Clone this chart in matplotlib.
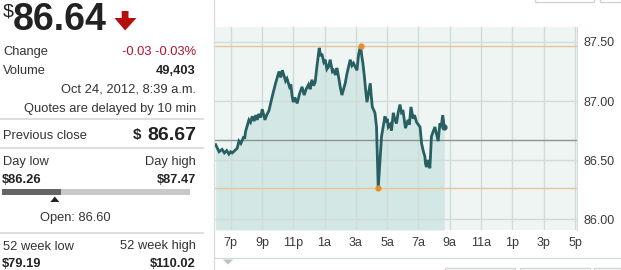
import matplotlib
matplotlib.use("Agg")
import matplotlib.pyplot as plt
from matplotlib.patches import Polygon, Rectangle
import numpy as np

plt.rcParams['font.family'] = ['Liberation Sans', 'DejaVu Sans']

# ---------------- data ----------------
# hours after 6 p.m. (Oct 23) and price
hours = [0.04, 0.26, 0.45, 0.60, 0.75, 0.89, 1.00, 1.10, 1.42, 1.53, 1.65, 1.85,
         1.90, 1.95, 2.17, 2.27, 2.38, 2.50, 2.60, 2.70, 2.80, 2.91, 3.02, 3.19,
         3.30, 3.45, 3.66, 3.87, 4.09, 4.20, 4.30, 4.40, 4.51, 4.60, 4.76, 4.85,
         4.92, 5.00, 5.10, 5.25, 5.40, 5.56, 5.70, 5.82, 5.98, 6.08, 6.19, 6.30,
         6.40, 6.51, 6.66, 6.75, 6.83, 6.95, 7.04, 7.15, 7.25, 7.36, 7.50, 7.57,
         7.70, 7.79, 7.89, 8.00, 8.11, 8.32, 8.43, 8.64, 8.75, 8.85, 9.07, 9.17,
         9.30, 9.38, 9.45, 9.55, 9.62, 9.71, 9.92, 9.98, 10.05, 10.22, 10.32,
         10.43, 10.64, 10.86, 10.95, 11.00, 11.07, 11.18, 11.28, 11.39, 11.50,
         11.60, 11.70, 11.82, 11.92, 12.02, 12.17, 12.34, 12.42, 12.52, 12.66,
         12.75, 12.88, 13.10, 13.20, 13.30, 13.41, 13.45, 13.51, 13.60, 13.73,
         13.83, 14.05, 14.26, 14.37, 14.45, 14.55, 14.65]
prices = [86.63, 86.57, 86.59, 86.56, 86.58, 86.55, 86.57, 86.56, 86.60, 86.66,
          86.64, 86.70, 86.68, 86.74, 86.84, 86.82, 86.87, 86.83, 86.88, 86.84,
          86.89, 86.86, 86.93, 86.84, 86.88, 86.92, 87.04, 87.15, 87.25, 87.20,
          87.26, 87.22, 87.17, 87.19, 87.12, 87.14, 87.05, 86.99, 87.03, 86.98,
          87.06, 87.12, 87.05, 87.10, 87.14, 87.10, 87.18, 87.13, 87.16, 87.29,
          87.45, 87.38, 87.40, 87.33, 87.35, 87.27, 87.29, 87.35, 87.25, 87.26,
          87.22, 87.28, 87.21, 87.12, 87.05, 87.15, 87.23, 87.35, 87.30, 87.32,
          87.26, 87.39, 87.47, 87.38, 87.32, 87.20, 87.10, 86.99, 87.15, 87.05,
          86.95, 86.90, 86.78, 86.26, 86.70, 86.87, 86.82, 86.85, 86.78, 86.80,
          86.75, 86.90, 86.84, 86.81, 86.90, 86.97, 86.90, 86.91, 86.77, 86.84,
          86.80, 86.95, 86.85, 86.88, 86.82, 86.78, 86.64, 86.58, 86.53, 86.47,
          86.44, 86.50, 86.43, 86.70, 86.78, 86.66, 86.81, 86.78, 86.88, 86.78]

tick_hours = [1, 3, 5, 7, 9, 11, 13, 15, 17, 19, 21, 23]
tick_labels = ['7p', '9p', '11p', '1a', '3a', '5a', '7a', '9a', '11a', '1p', '3p', '5p']
y_ticks = [86.00, 86.50, 87.00, 87.50]

last_price = 86.64
change = -0.03
change_pct = -0.03
volume = 49403
prev_close = 86.67
day_low = 86.26
day_high = 87.47
open_price = 86.60
wk52_low = 79.19
wk52_high = 110.02
timestamp = 'Oct 24, 2012, 8:39 a.m.'

# ---------------- figure ----------------
W, H = 621, 270
fig = plt.figure(figsize=(W / 100, H / 100), dpi=100)
fig.patch.set_facecolor('white')

ov = fig.add_axes([0, 0, 1, 1], zorder=0)
ov.set_xlim(0, W)
ov.set_ylim(H, 0)
ov.axis('off')

TXT = '#333333'
VAL = '#222222'
FS = 9.3
R = 196

# big price
ov.text(3, 4, '$', fontsize=14, color=VAL, va='top', ha='left')
ov.text(13, 30.5, f'{last_price:.2f}', fontsize=27, fontweight='bold', color=VAL,
        va='baseline', ha='left')
# red down arrow
ov.add_patch(Polygon([[121.7, 11], [128.5, 11], [128.5, 18], [136.5, 18],
                      [125.1, 30.5], [114.5, 18], [121.7, 18]],
                     closed=True, color='#b50d0d', lw=0))

ov.text(3, 55, 'Change', fontsize=FS, color=TXT, va='baseline')
ov.text(R, 55, f'{change:.2f} {change_pct:.2f}%', fontsize=FS, color='#b3122b',
        va='baseline', ha='right')
ov.text(3, 74, 'Volume', fontsize=FS, color=TXT, va='baseline')
ov.text(R, 74, f'{volume:,}', fontsize=FS, color=VAL, fontweight='bold',
        va='baseline', ha='right')
ov.text(R, 93, timestamp, fontsize=FS, color=TXT, va='baseline', ha='right')
ov.text(R, 112, 'Quotes are delayed by 10 min', fontsize=FS, color=TXT,
        va='baseline', ha='right')

SEP = '#d3dada'
for yy in (119, 147.5, 232.5):
    ov.plot([0, 203], [yy, yy], color=SEP, lw=1.2)

ov.text(3, 139, 'Previous close', fontsize=FS, color=TXT, va='baseline')
ov.text(R, 139.5, f'{prev_close:.2f}', fontsize=14, fontweight='bold', color=VAL,
        va='baseline', ha='right')
ov.text(133, 139.5, '$', fontsize=11, fontweight='bold', color=VAL,
        va='baseline', ha='left')

ov.text(3, 165, 'Day low', fontsize=FS, color=TXT, va='baseline')
ov.text(R, 165, 'Day high', fontsize=FS, color=TXT, va='baseline', ha='right')
ov.text(2, 183.3, f'${day_low:.2f}', fontsize=FS, color=VAL, fontweight='bold',
        va='baseline')
ov.text(R, 183.3, f'${day_high:.2f}', fontsize=FS, color=VAL, fontweight='bold',
        va='baseline', ha='right')

# day range bar
bx0, bx1 = 2, 190
frac = (last_price - day_low) / (day_high - day_low)
ov.add_patch(Rectangle((bx0, 189), bx1 - bx0, 6, color='#c9c9c9', lw=0))
ov.add_patch(Rectangle((bx0, 189), (bx1 - bx0) * frac, 6, color='#656565', lw=0))
ox = bx0 + (bx1 - bx0) * (open_price - day_low) / (day_high - day_low)
ov.add_patch(Polygon([[ox - 4.5, 202], [ox + 4.5, 202], [ox, 196.5]], closed=True,
                     color='#222222', lw=0))
ov.text(75, 221, f'Open: {open_price:.2f}', fontsize=FS, color=TXT,
        va='baseline', ha='center')

ov.text(3, 249.5, '52 week low', fontsize=FS, color=TXT, va='baseline')
ov.text(R, 249.5, '52 week high', fontsize=FS, color=TXT, va='baseline', ha='right')
ov.text(2, 267, f'${wk52_low:.2f}', fontsize=FS, color=VAL, fontweight='bold',
        va='baseline')
ov.text(R, 267, f'${wk52_high:.2f}', fontsize=FS, color=VAL, fontweight='bold',
        va='baseline', ha='right')

# chart frame decorations
ov.plot([213.5, 213.5], [0, H], color='#dadede', lw=1)
ov.plot([215, W], [258, 258], color='#d6dcdc', lw=1)
ov.add_patch(Polygon([[223, 259.5], [233, 259.5], [228, 264.5]], closed=True,
                     color='#b8c2c4', lw=0))
for (x0, x1) in ((535, 594), (600, 621)):
    ov.add_patch(Rectangle((x0, -3), x1 - x0, 4.5, fill=False, ec='#d0d4d4', lw=1))
for (x0, x1) in ((445, 515), (520, 590), (594, 621)):
    ov.add_patch(Rectangle((x0, 267.5), x1 - x0, 6, fill=False, ec='#d0d4d4', lw=1))

# ---------------- chart ----------------
ax_l, ax_r, ax_t, ax_b = 215, 577, 27, 230
ax = fig.add_axes([ax_l / W, 1 - ax_b / H, (ax_r - ax_l) / W, (ax_b - ax_t) / H],
                  zorder=2)
ax.set_facecolor('#eef5f3')
ymin, ymax = 85.907, 87.627
ax.set_xlim(0, 23.13)
ax.set_ylim(ymin, ymax)

t = np.array(hours)
p = np.array(prices)

GRID = '#cfdcd8'
for h in tick_hours:
    ax.axvline(h, color=GRID, lw=1, zorder=1)
for v in y_ticks:
    ax.axhline(v, color=GRID, lw=1, zorder=1)

ax.fill_between(t, p, ymin, color='#d3e8e4', lw=0, zorder=0.5)

ax.axhline(day_high, color='#ecc49a', lw=1, zorder=2)
ax.axhline(day_low, color='#ecc49a', lw=1, zorder=2)
ax.axhline(prev_close, color='#8b9494', lw=1, zorder=2)

ax.plot(t, p, color='#285f63', lw=2.0, zorder=3, solid_joinstyle='miter')
ax.plot(t[-1], p[-1], 'o', color='#285f63', ms=3.5, zorder=3)
imax, imin = int(np.argmax(p)), int(np.argmin(p))
ax.plot([t[imax], t[imin]], [p[imax], p[imin]], 'o', color='#e48f2a', ms=4.5,
        mec='none', zorder=4)

ax.set_xticks(tick_hours)
ax.set_xticklabels(tick_labels)
ax.yaxis.tick_right()
ax.set_yticks(y_ticks)
ax.set_yticklabels([f'{v:.2f}' for v in y_ticks])
ax.tick_params(axis='both', length=0, labelsize=9, labelcolor='#3a3a3a')
ax.tick_params(axis='x', pad=5)
ax.tick_params(axis='y', pad=4.5)
for s in ax.spines.values():
    s.set_visible(False)
ax.spines['right'].set_visible(True)
ax.spines['right'].set_color('#d8dedd')

fig.savefig('out.png', dpi=100, facecolor='white')
